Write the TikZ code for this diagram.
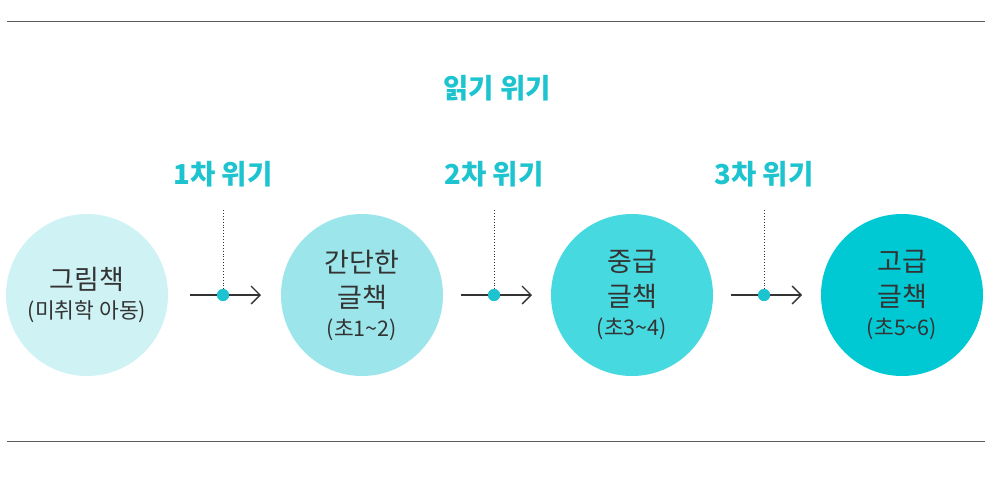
\documentclass[tikz,border=0pt]{standalone}
\usepackage{fontspec}
\usetikzlibrary{arrows.meta}
\setmainfont{Noto Sans CJK KR}
\definecolor{teal1}{HTML}{1DC4CF}
\definecolor{c1}{HTML}{CFF2F4}
\definecolor{c2}{HTML}{9CE6EB}
\definecolor{c3}{HTML}{47D9E0}
\definecolor{c4}{HTML}{00C9D4}
\definecolor{ink}{HTML}{333333}
\begin{document}
\begin{tikzpicture}[x=1pt,y=-1pt,
  stage/.style={circle,minimum size=162pt,inner sep=0pt,align=center,font=\fontsize{27}{35}\selectfont,text=ink},
  crisis/.style={font=\bfseries\fontsize{27.5}{31}\selectfont,text=teal1},
  flow/.style={draw=ink,line width=1.3pt,-{Straight Barb[length=9pt,width=18pt,line width=1.3pt]}},
  pt/.style={circle,fill=teal1,inner sep=0pt,minimum size=12pt},
  rule/.style={draw=ink!80,line width=0.8pt}]
\useasboundingbox (0,0) rectangle (1004,480);
\coordinate (l1a) at (7,21); \coordinate (l1b) at (985,21);
\coordinate (l2a) at (7,441); \coordinate (l2b) at (985,441);
\draw[rule] (l1a) -- (l1b); \draw[rule] (l2a) -- (l2b);
\node[crisis] (title) at (497,88) {읽기 위기};
\node[stage,fill=c1] (s1) at (87,295) {그림책\\[-6pt]{\fontsize{21.5}{26}\selectfont(미취학 아동)}};
\node[stage,fill=c2] (s2) at (362,295) {간단한\\글책\\[-6pt]{\fontsize{21.5}{26}\selectfont(초1\textasciitilde2)}};
\node[stage,fill=c3] (s3) at (632,295) {중급\\글책\\[-6pt]{\fontsize{21.5}{26}\selectfont(초3\textasciitilde4)}};
\node[stage,fill=c4] (s4) at (902,295) {고급\\글책\\[-6pt]{\fontsize{21.5}{26}\selectfont(초5\textasciitilde6)}};
\foreach \i/\x in {1/223,2/494,3/764}{
  \node[crisis] (k\i) at (\x,174) {\i{}차 위기};
  \coordinate (t\i) at (\x,210);
  \coordinate (a\i) at (\x-33,295);
  \coordinate (b\i) at (\x+38,295);
  \node[pt] (p\i) at (\x,295) {};
  \draw[dotted,ink,line width=0.9pt] (t\i) -- (p\i);
  \draw[flow] (a\i) -- (b\i);
  \node[pt] at (\x,295) {};
}
\end{tikzpicture}
\end{document}
